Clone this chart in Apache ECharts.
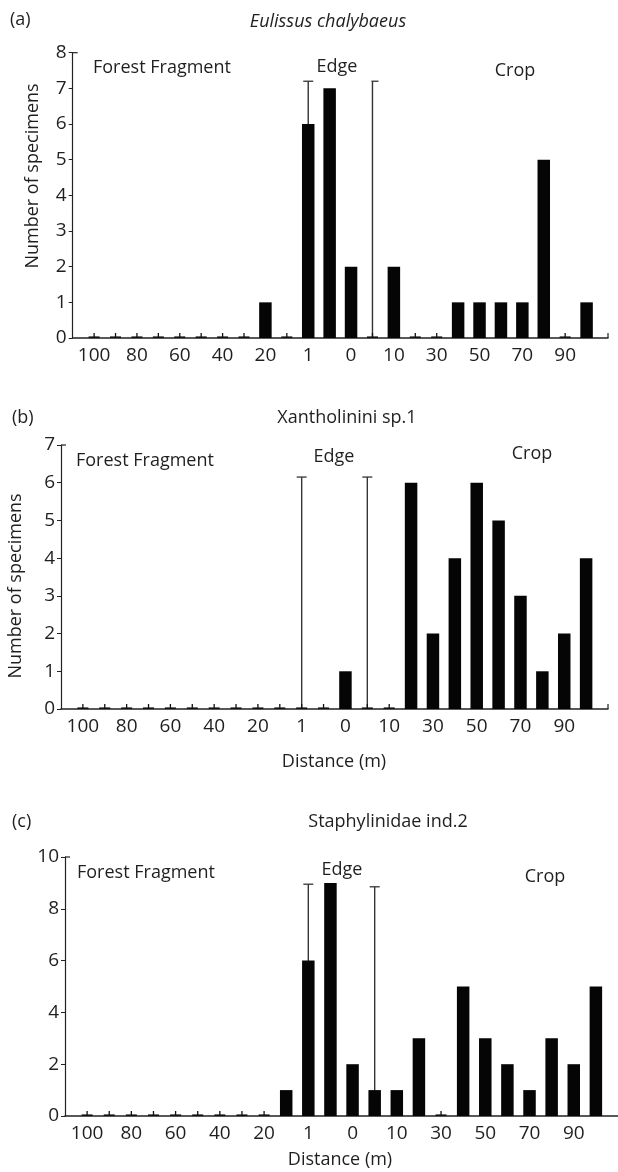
<!DOCTYPE html>
<html><head><meta charset="utf-8">
<script src="https://cdn.jsdelivr.net/npm/echarts@6/dist/echarts.min.js"></script>
<style>html,body{margin:0;padding:0;background:#fff}#c{width:618px;height:1172px}</style>
</head><body><div id="c"></div>
<script>
// Distance categories (forest side -> edge -> crop side)
const distances = ['100','90','80','70','60','50','40','30','20','10','1','e','0','e','10','20','30','40','50','60','70','80','90','100'];
// Number of specimens per distance
const eulissus = [0,0,0,0,0,0,0,0,1,0,6,7,2,0,2,0,0,1,1,1,1,5,0,1];
const xantholinini = [0,0,0,0,0,0,0,0,0,0,0,0,1,0,0,6,2,4,6,5,3,1,2,4];
const staphylinidae = [0,0,0,0,0,0,0,0,0,1,6,9,2,1,1,3,0,5,3,2,1,3,2,5];
// Edge boundary markers (category index, top value)
const boundaryIndex = [10, 13];
const boundaryA = [7.2, 7.2];
const boundaryB = [6.15, 6.15];
const boundaryC = [8.95, 8.85];
// y-axis ranges
const yMax = [8, 7, 10];
const yStep = [1, 1, 2];
const titles = ['Eulissus chalybaeus', 'Xantholinini sp.1', 'Staphylinidae ind.2'];
const panelTags = ['(a)', '(b)', '(c)'];
const zoneLabels = ['Forest Fragment', 'Edge', 'Crop'];
const yName = 'Number of specimens';
const xName = 'Distance (m)';

const FONT = '"Open Sans", sans-serif';
const TXT = '#1f1f1f';
const TICKFS = 19;
const TEXTFS = 18;
const axisCats = [''].concat(distances, ['']);

const grids = [
  {left: 72.7, top: 52.7, width: 535.3, height: 285.3},
  {left: 61, top: 445, width: 547, height: 264},
  {left: 65, top: 857, width: 555, height: 259}
];

function zeroMarkItem(params, api) {
  const p = api.coord([api.value(0), 0]);
  return {type: 'group', children: [
    {type: 'line', shape: {x1: p[0] - 5.5, y1: p[1] - 0.8, x2: p[0] + 5.5, y2: p[1] - 0.8}, style: {stroke: '#111', lineWidth: 1.6}},
    {type: 'line', shape: {x1: p[0], y1: p[1], x2: p[0], y2: p[1] - 5}, style: {stroke: '#111', lineWidth: 1.3}}
  ]};
}
function boundaryItemFactory(caps) {
  return function (params, api) {
    const x = api.value(0), top = api.value(1);
    const p0 = api.coord([x, 0]), p1 = api.coord([x, top]);
    const c = caps[params.dataIndex];
    return {type: 'group', children: [
      {type: 'line', shape: {x1: p0[0], y1: p0[1], x2: p1[0], y2: p1[1]}, style: {stroke: '#333', lineWidth: 1.4}},
      {type: 'line', shape: {x1: p1[0] - c[0], y1: p1[1], x2: p1[0] + c[1], y2: p1[1]}, style: {stroke: '#333', lineWidth: 1.3}}
    ]};
  };
}

const allValues = [eulissus, xantholinini, staphylinidae];
const allBounds = [boundaryA, boundaryB, boundaryC];
const capsPerPanel = [[[5, 5], [1, 6]], [[5, 5], [5, 5]], [[5, 5], [5, 5]]];

const xAxes = [], yAxes = [], series = [];
for (let k = 0; k < 3; k++) {
  xAxes.push({
    type: 'category', gridIndex: k, data: axisCats, boundaryGap: false,
    axisLine: {lineStyle: {color: '#222', width: 1.5}},
    axisTick: {show: false},
    axisLabel: {interval: function (i) { return i % 2 === 1 && i < 24; }, margin: 8,
      fontFamily: FONT, fontSize: TICKFS, color: TXT}
  });
  yAxes.push({
    type: 'value', gridIndex: k, min: 0, max: yMax[k], interval: yStep[k],
    splitLine: {show: false},
    axisLine: {show: true, lineStyle: {color: '#222', width: 1.2}},
    axisTick: {show: true, length: 4, lineStyle: {color: '#222'}},
    axisLabel: {margin: 6, fontFamily: FONT, fontSize: TICKFS, color: TXT}
  });
  const vals = allValues[k];
  series.push({
    type: 'custom', xAxisIndex: k, yAxisIndex: k, z: 1, silent: true,
    renderItem: boundaryItemFactory(capsPerPanel[k]),
    data: boundaryIndex.map((idx, j) => [idx + 1, allBounds[k][j]])
  });
  series.push({
    type: 'bar', xAxisIndex: k, yAxisIndex: k, z: 2, barWidth: 12.5,
    itemStyle: {color: '#050505'},
    data: vals.map((v, i) => [i + 1, v])
  });
  series.push({
    type: 'custom', xAxisIndex: k, yAxisIndex: k, z: 3, silent: true,
    renderItem: zeroMarkItem,
    data: vals.map((v, i) => v === 0 ? [i + 1, 0] : null).filter(d => d)
  });
}

function txt(x, y, s, opts) {
  return {type: 'text', x: x, y: y, style: Object.assign({
    text: s, fontFamily: FONT, fontSize: TEXTFS, fill: TXT, textVerticalAlign: 'middle', textAlign: 'left'}, opts || {})};
}
const graphics = [
  txt(10, 20, panelTags[0]),
  txt(328, 22, titles[0], {textAlign: 'center', fontStyle: 'italic'}),
  txt(93, 68, zoneLabels[0]),
  txt(337, 67, zoneLabels[1], {textAlign: 'center'}),
  txt(515, 71, zoneLabels[2], {textAlign: 'center'}),
  Object.assign(txt(33, 176, yName, {textAlign: 'center'}), {rotation: Math.PI / 2}),

  txt(12, 418, panelTags[1]),
  txt(347, 418, titles[1], {textAlign: 'center'}),
  txt(76, 461, zoneLabels[0]),
  txt(334, 457, zoneLabels[1], {textAlign: 'center'}),
  txt(532, 454, zoneLabels[2], {textAlign: 'center'}),
  Object.assign(txt(16, 586, yName, {textAlign: 'center'}), {rotation: Math.PI / 2}),
  txt(334, 762, xName, {textAlign: 'center'}),

  txt(12, 822, panelTags[2]),
  txt(388, 822, titles[2], {textAlign: 'center'}),
  txt(77, 873, zoneLabels[0]),
  txt(342, 870, zoneLabels[1], {textAlign: 'center'}),
  txt(545, 877, zoneLabels[2], {textAlign: 'center'}),
  txt(340, 1160, xName, {textAlign: 'center'})
];
// axis end caps (MATLAB-style box corners)
grids.forEach(function (g) {
  graphics.push({type: 'line', shape: {x1: g.left, y1: g.top, x2: g.left + 5, y2: g.top}, style: {stroke: '#222', lineWidth: 1.2}});
  graphics.push({type: 'line', shape: {x1: g.left + g.width, y1: g.top + g.height, x2: g.left + g.width, y2: g.top + g.height - 5}, style: {stroke: '#222', lineWidth: 1.2}});
});

const chart = echarts.init(document.getElementById('c'), null, {renderer: 'canvas'});
chart.setOption({
  animation: false,
  backgroundColor: '#fff',
  grid: grids,
  xAxis: xAxes,
  yAxis: yAxes,
  series: series,
  graphic: graphics
});
</script></body></html>
